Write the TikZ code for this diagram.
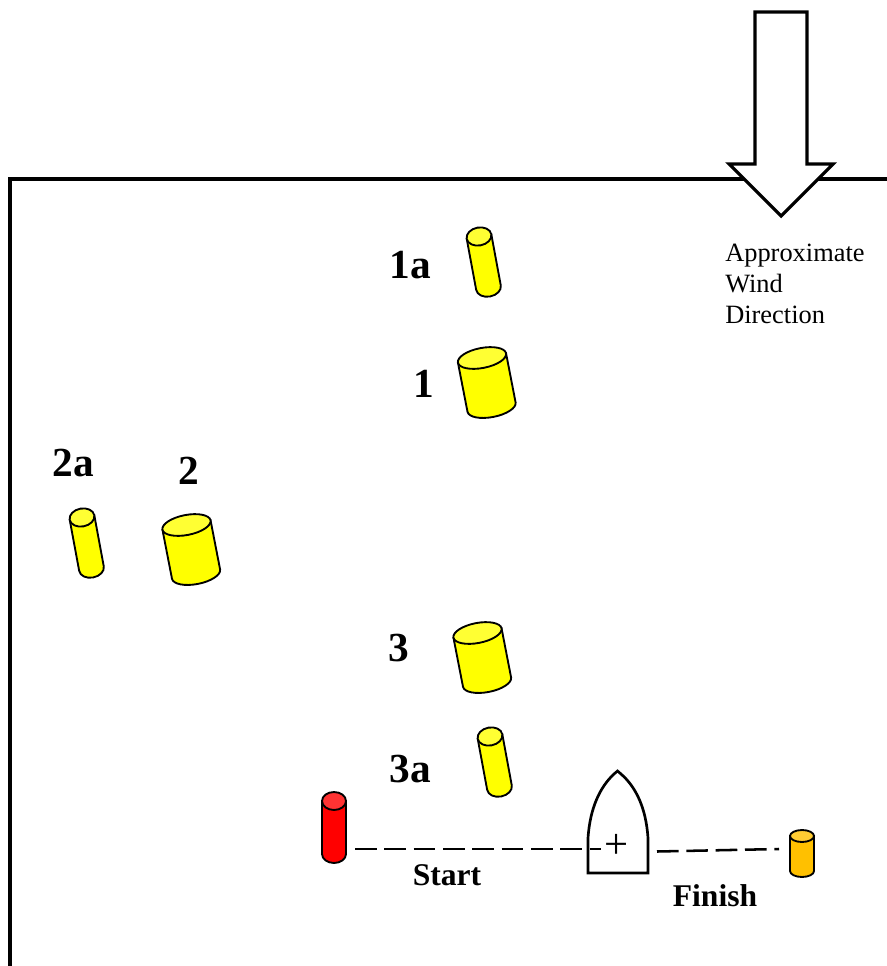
\documentclass[tikz,border=0pt]{standalone}
\usepackage{fontspec}
\setmainfont{Liberation Serif}
\definecolor{bodyyellow}{RGB}{255,255,0}
\definecolor{topyellow}{RGB}{255,255,51}
\definecolor{bodyred}{RGB}{255,0,0}
\definecolor{topred}{RGB}{255,51,51}
\definecolor{bodyorange}{RGB}{255,192,0}
\definecolor{toporange}{RGB}{255,204,51}

\begin{document}
\begin{tikzpicture}[x=0.75pt,y=-0.75pt,
        outline/.style={line width=2.4pt,miter limit=10},
        mooring/.style={line width=1.9pt,dash pattern=on 16.2pt off 5.8pt},
        marklabel/.style={font=\bfseries\fontsize{31}{34}\selectfont,inner sep=0pt},
        linelabel/.style={font=\bfseries\fontsize{23.7}{28}\selectfont,inner sep=0pt},
        pics/buoy/.style n args={5}{code={
            \draw[line width=1.4pt,fill=#4] (-#1,0) -- (-#1,#3) arc[start angle=180,end angle=0,x radius=#1,y radius=#2] -- (#1,0) -- cycle;
            \draw[line width=1.4pt,fill=#5] (0,0) ellipse[x radius=#1,y radius=#2];
        }}]
    \useasboundingbox (0,0) rectangle (887,966);

    % course boundary
    \draw[outline] (887,179) -- (10,179) -- (10,966);

    % wind arrow
    \draw[outline,fill=white] (755,12) -- (807,12) -- (807,164) -- (833,164) -- (781,216) -- (729,164) -- (755,164) -- cycle;
    \node[font=\fontsize{19.8}{23.25}\selectfont,align=left,anchor=west,inner sep=0pt] (wind) at (725,284) {Approximate\\Wind\\Direction};

    % marks
    \pic[rotate=10.5] (mark1a) at (479,236.5) {buoy={12.5}{9}{52}{bodyyellow}{topyellow}};
    \pic[rotate=10.5] (mark2a) at (82,517.5) {buoy={12.5}{9}{52}{bodyyellow}{topyellow}};
    \pic[rotate=10.5] (mark3a) at (490,736.5) {buoy={12.5}{9}{52}{bodyyellow}{topyellow}};
    \pic[rotate=11] (mark1) at (482,358) {buoy={24.5}{10}{50}{bodyyellow}{topyellow}};
    \pic[rotate=11] (mark2) at (186.5,525) {buoy={24.5}{10}{50}{bodyyellow}{topyellow}};
    \pic[rotate=11] (mark3) at (477.5,633) {buoy={24.5}{10}{50}{bodyyellow}{topyellow}};
    \pic (startmark) at (334,801) {buoy={12}{9}{53}{bodyred}{topred}};
    \pic (finishmark) at (802,836) {buoy={12}{6}{35}{bodyorange}{toporange}};

    \node[marklabel] (label1a) at (410,265) {1a};
    \node[marklabel] (label1) at (424,384) {1};
    \node[marklabel] (label2a) at (73,463) {2a};
    \node[marklabel] (label2) at (189,471) {2};
    \node[marklabel] (label3) at (399,648) {3};
    \node[marklabel] (label3a) at (410,769) {3a};

    % committee boat
    \draw[line width=2pt,miter limit=10] (588,873) -- (588,838) .. controls (590,808) and (600,787) .. (614,774) -- (617.5,771) -- (621,774) .. controls (636,787) and (646,808) .. (648,838) -- (648,873) -- cycle;
    \node[font=\fontsize{32}{34}\selectfont,inner sep=0pt] (cross) at (617,846) {+};

    % start and finish lines
    \coordinate (startA) at (355,849);
    \coordinate (startB) at (601,849);
    \coordinate (finishA) at (657,851.5);
    \coordinate (finishB) at (779,849);
    \draw[mooring] (startA) -- (startB);
    \draw[mooring] (finishA) -- (finishB);
    \node[linelabel] (start) at (447,875) {Start};
    \node[linelabel] (finish) at (715,896) {Finish};
\end{tikzpicture}
\end{document}
